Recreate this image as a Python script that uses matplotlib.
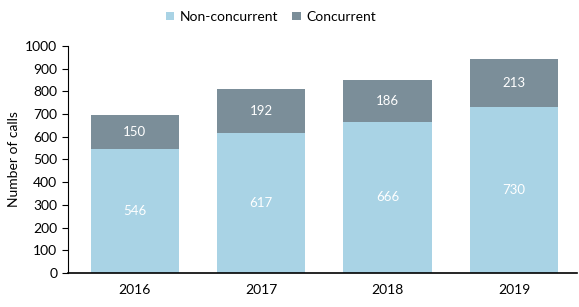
import matplotlib
matplotlib.use("Agg")
import matplotlib.pyplot as plt
import numpy as np

plt.rcParams['font.family'] = ['Lato', 'DejaVu Sans']

years = ["2016", "2017", "2018", "2019"]
non_concurrent = [546, 617, 666, 730]
concurrent = [150, 192, 186, 213]
yticks = [0, 100, 200, 300, 400, 500, 600, 700, 800, 900, 1000]

c_non = "#a9d3e5"
c_con = "#7b8e99"

fig = plt.figure(figsize=(5.79, 3.07), dpi=100)
ax = fig.add_axes([0.117, 0.111, 0.88, 0.739])

x = np.arange(len(years))
w = 0.7
b1 = ax.bar(x, non_concurrent, width=w, color=c_non, label="Non-concurrent")
b2 = ax.bar(x, concurrent, width=w, bottom=non_concurrent, color=c_con, label="Concurrent")

for i in range(len(years)):
    ax.text(x[i], non_concurrent[i] / 2, str(non_concurrent[i]), ha="center", va="center",
            color="white", fontsize=9.5)
    ax.text(x[i], non_concurrent[i] + concurrent[i] / 2, str(concurrent[i]), ha="center",
            va="center", color="white", fontsize=9.5)

ax.set_xlim(-0.53, 3.5)
ax.set_ylim(0, 1000)
ax.set_yticks(yticks)
ax.set_xticks(x)
ax.set_xticklabels(years, fontsize=10)
ax.tick_params(axis="x", length=0, pad=8)
ax.tick_params(axis="y", labelsize=10, length=4, width=0.8)
ax.set_ylabel("Number of calls", fontsize=10)
for s in ["top", "right"]:
    ax.spines[s].set_visible(False)
ax.spines["left"].set_linewidth(0.8)
ax.spines["bottom"].set_linewidth(1.2)

fig.legend(handles=[b1, b2], loc="center", bbox_to_anchor=(0.468, 0.945), ncol=2,
           frameon=False, fontsize=10, handlelength=0.6, handleheight=0.6,
           handletextpad=0.4, columnspacing=1.0)

fig.savefig("out.png", dpi=100)
